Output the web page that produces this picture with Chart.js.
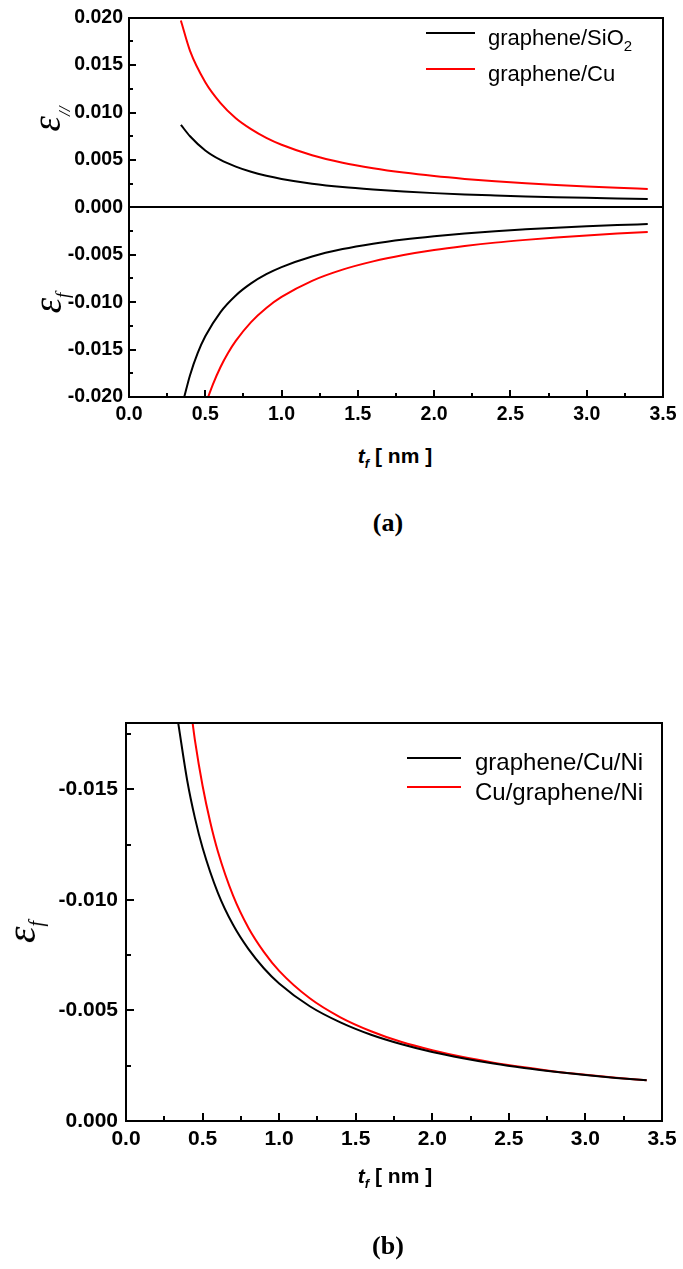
<!DOCTYPE html>
<html><head><meta charset="utf-8">
<script src="https://cdn.jsdelivr.net/npm/chart.js@4.4.1/dist/chart.umd.min.js"></script>
<style>
html,body{margin:0;padding:0;background:#fff}
body{width:683px;height:1269px;position:relative;overflow:hidden;font-family:"Liberation Sans",Arial,sans-serif;color:#000}
canvas{position:absolute;left:0}
.t{position:absolute;white-space:nowrap;line-height:0}
.sw{position:absolute;height:2px}
.xt{font-weight:bold;font-size:21px;transform:translateX(-50%)}
.cap{font-family:"Liberation Serif","Times New Roman",serif;font-weight:bold;font-size:26px;transform:translateX(-50%)}
.yt{position:absolute;white-space:nowrap;font-family:"Liberation Serif",serif;font-style:italic;line-height:1;transform:translate(-50%,-50%) rotate(-90deg)}
</style></head><body>
<canvas id="c1" width="683" height="440" style="top:0"></canvas>
<canvas id="c2" width="683" height="470" style="top:700px"></canvas>

<!-- chart (a) legend -->
<div class="sw" style="left:426px;top:32px;width:49px;background:#000"></div>
<div class="sw" style="left:426px;top:68px;width:49px;background:#f00"></div>
<div class="t" style="left:488px;top:38.4px;font-size:22px">graphene/SiO<span style="font-size:15px;position:relative;top:6px">2</span></div>
<div class="t" style="left:488px;top:74.4px;font-size:22px">graphene/Cu</div>
<!-- chart (a) axis titles -->
<div class="yt" style="left:46px;top:119px;font-size:39px">ε<span style="font-size:17px;position:relative;top:10px">//</span></div>
<div class="yt" style="left:47px;top:303px;font-size:39px">ε<span style="font-size:19px;position:relative;top:8px">f</span></div>
<div class="t xt" style="left:395px;top:456px"><i>t</i><i style="font-size:13px;position:relative;top:5px">f</i> [ nm ]</div>
<div class="t cap" style="left:388px;top:523px">(a)</div>

<!-- chart (b) legend -->
<div class="sw" style="left:407px;top:757px;width:54px;background:#000"></div>
<div class="sw" style="left:407px;top:786px;width:54px;background:#f00"></div>
<div class="t" style="left:475px;top:762.4px;font-size:24px">graphene/Cu/Ni</div>
<div class="t" style="left:475px;top:791.7px;font-size:24px">Cu/graphene/Ni</div>
<div class="yt" style="left:21px;top:932px;font-size:42px">ε<span style="font-size:20px;position:relative;top:8px">f</span></div>
<div class="t xt" style="left:395px;top:1176px"><i>t</i><i style="font-size:13px;position:relative;top:5px">f</i> [ nm ]</div>
<div class="t cap" style="left:388px;top:1246px">(b)</div>

<script>
// ---------- data: chart (a) ----------
const tfParSiO2 = [0.34,0.4,0.5,0.6,0.7,0.8,0.9,1.0,1.2,1.4,1.6,1.8,2.0,2.2,2.4,2.6,2.8,3.0,3.2,3.4];
const epsParSiO2 = [0.0087,0.0075,0.0060,0.0050,0.0043,0.00375,0.00333,0.0030,0.0025,0.00214,0.00188,0.00167,0.0015,0.00136,0.00125,0.00115,0.00107,0.0010,0.00094,0.00088];
const tfParCu = [0.34,0.4,0.5,0.6,0.7,0.8,0.9,1.0,1.2,1.4,1.6,1.8,2.0,2.2,2.4,2.6,2.8,3.0,3.2,3.4];
const epsParCu = [0.0197,0.0165,0.0132,0.0110,0.0094,0.00825,0.00733,0.0066,0.0055,0.00471,0.00413,0.00367,0.0033,0.0030,0.00275,0.00254,0.00236,0.0022,0.00206,0.00194];
const tfFSiO2 = [0.362,0.4,0.45,0.5,0.6,0.7,0.8,0.9,1.0,1.2,1.4,1.6,1.8,2.0,2.2,2.4,2.6,2.8,3.0,3.2,3.4];
const epsFSiO2 = [-0.0200,-0.0177,-0.01538,-0.0136,-0.01104,-0.00929,-0.00802,-0.00705,-0.0063,-0.00518,-0.0044,-0.00383,-0.00339,-0.00304,-0.00275,-0.00251,-0.00232,-0.00215,-0.0020,-0.00187,-0.00176];
const tfFCu = [0.519,0.55,0.6,0.65,0.7,0.8,0.9,1.0,1.2,1.4,1.6,1.8,2.0,2.2,2.4,2.6,2.8,3.0,3.2,3.4];
const epsFCu = [-0.0200,-0.01866,-0.01683,-0.01533,-0.01408,-0.0121,-0.01061,-0.00945,-0.00775,-0.00657,-0.0057,-0.00503,-0.0045,-0.00408,-0.00372,-0.00343,-0.00318,-0.00296,-0.00277,-0.0026];
// ---------- data: chart (b) ----------
const tfGCuNi = [0.341,0.4,0.45,0.5,0.6,0.7,0.8,0.9,1.0,1.2,1.4,1.6,1.8,2.0,2.2,2.4,2.6,2.8,3.0,3.2,3.4];
const epsGCuNi = [-0.0180,-0.01539,-0.01371,-0.01236,-0.01032,-0.00886,-0.00777,-0.00691,-0.00622,-0.00519,-0.00446,-0.0039,-0.00347,-0.00312,-0.00284,-0.0026,-0.0024,-0.00223,-0.00208,-0.00195,-0.00184];
const tfCuGNi = [0.435,0.45,0.5,0.55,0.6,0.7,0.8,0.9,1.0,1.2,1.4,1.6,1.8,2.0,2.2,2.4,2.6,2.8,3.0,3.2,3.4];
const epsCuGNi = [-0.0180,-0.01723,-0.01516,-0.01352,-0.01219,-0.01018,-0.00873,-0.00765,-0.00679,-0.00555,-0.00469,-0.00406,-0.00357,-0.0032,-0.00289,-0.00264,-0.00243,-0.00224,-0.00209,-0.00196,-0.00184];
// ---------- axis ticks ----------
const xTickStep = 0.5;
const yTickStep = 0.005;

function pts(xs, ys){ return xs.map((x,i)=>({x:x, y:ys[i]})); }
function ds(label, xs, ys, color){
  return {label:label, data:pts(xs,ys), borderColor:color, backgroundColor:color, borderWidth:2,
          pointRadius:0, fill:false, cubicInterpolationMode:'monotone'};
}
function minorVals(scale){
  const v = scale.ticks.map(t=>t.value);
  if (v.length < 2) return [];
  const step = Math.abs(v[1]-v[0]);
  const lo = Math.min(scale.min,scale.max), hi = Math.max(scale.min,scale.max);
  const out = [];
  for (const a of v) for (const m of [a-step/2, a+step/2])
    if (m >= lo-1e-9 && m <= hi+1e-9 && !out.some(o=>Math.abs(o-m)<1e-9) && !v.some(o=>Math.abs(o-m)<1e-9)) out.push(m);
  return out;
}
const framePlugin = {
  id:'frame',
  afterDatasetsDraw(chart, args, o){
    const ctx = chart.ctx, a = chart.chartArea, x = chart.scales.x, y = chart.scales.y;
    ctx.save();
    ctx.strokeStyle = '#000'; ctx.lineWidth = o.lw; ctx.lineCap = 'butt';
    const seg = (x1,y1,x2,y2)=>{ ctx.beginPath(); ctx.moveTo(x1,y1); ctx.lineTo(x2,y2); ctx.stroke(); };
    if (o.zero) { const py = Math.round(y.getPixelForValue(0)); seg(a.left, py, a.right, py); }
    x.ticks.forEach(t=>{ const px = Math.round(x.getPixelForValue(t.value)); seg(px, a.bottom, px, a.bottom - o.xMaj); });
    minorVals(x).forEach(v=>{ const px = Math.round(x.getPixelForValue(v)); seg(px, a.bottom, px, a.bottom - o.xMin); });
    y.ticks.forEach(t=>{ const py = Math.round(y.getPixelForValue(t.value)); seg(a.left, py, a.left + o.yMaj, py); });
    minorVals(y).forEach(v=>{ const py = Math.round(y.getPixelForValue(v)); seg(a.left, py, a.left + o.yMin, py); });
    ctx.strokeRect(Math.round(a.left), Math.round(a.top), Math.round(a.right-a.left), Math.round(a.bottom-a.top));
    ctx.restore();
  }
};
function opts(c){
  return {
    responsive:false, animation:false, events:[],
    layout:{padding:{top:c.padTop, right:c.padRight, left:0, bottom:0}},
    plugins:{legend:{display:false}, tooltip:{enabled:false},
      frame:{lw:2, zero:c.zero, xMaj:c.xMaj, xMin:c.xMin, yMaj:c.yMaj, yMin:c.yMin}},
    scales:{
      x:{type:'linear', min:0, max:3.5,
         ticks:{stepSize:xTickStep, color:'#000', padding:c.xPad, maxRotation:0, autoSkip:false,
                font:{family:'"Liberation Sans", Arial, sans-serif', weight:'bold', size:c.fs},
                callback:v=>Number(v).toFixed(1)},
         grid:{display:false, drawTicks:false}, border:{display:false},
         afterFit:s=>{ s.height = c.xH; }},
      y:{type:'linear', min:c.yMin0, max:c.yMax0, reverse:c.rev,
         ticks:{stepSize:yTickStep, color:'#000', padding:c.yPad, autoSkip:false,
                font:{family:'"Liberation Sans", Arial, sans-serif', weight:'bold', size:c.fs},
                callback:v=>Math.abs(v)<1e-9 ? '0.000' : Number(v).toFixed(3)},
         grid:{display:false, drawTicks:false}, border:{display:false},
         afterBuildTicks:s=>{ s.ticks = s.ticks.filter(t=>Math.abs(t.value/yTickStep - Math.round(t.value/yTickStep))<1e-6); },
         afterFit:s=>{ s.width = c.yW; }}
    }
  };
}
new Chart(document.getElementById('c1'), {
  type:'line',
  data:{datasets:[
    ds('graphene/SiO2', tfParSiO2, epsParSiO2, '#000000'),
    ds('graphene/Cu', tfParCu, epsParCu, '#ff0000'),
    ds('graphene/SiO2 (f)', tfFSiO2, epsFSiO2, '#000000'),
    ds('graphene/Cu (f)', tfFCu, epsFCu, '#ff0000')
  ]},
  options:opts({padTop:15, padRight:20, xH:43, yW:129, fs:19.5, xPad:6, yPad:6, yMin0:-0.02, yMax0:0.02, rev:false,
                zero:true, xMaj:7, xMin:4, yMaj:7, yMin:4}),
  plugins:[framePlugin]
});
new Chart(document.getElementById('c2'), {
  type:'line',
  data:{datasets:[
    ds('graphene/Cu/Ni', tfGCuNi, epsGCuNi, '#000000'),
    ds('Cu/graphene/Ni', tfCuGNi, epsCuGNi, '#ff0000')
  ]},
  options:opts({padTop:23, padRight:21, xH:49, yW:126, fs:21, xPad:6, yPad:8, yMin0:-0.018, yMax0:0, rev:true,
                zero:false, xMaj:8, xMin:5, yMaj:8, yMin:5}),
  plugins:[framePlugin]
});
</script>
</body></html>
